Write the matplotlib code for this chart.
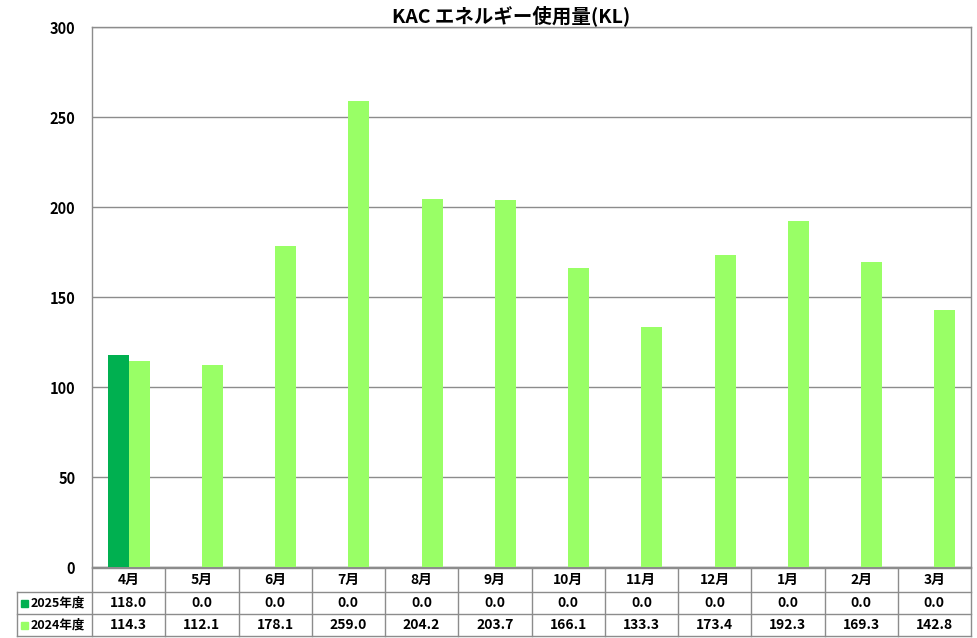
import matplotlib.pyplot as plt
from matplotlib.patches import Rectangle
import numpy as np

plt.rcParams['font.family'] = ['Noto Sans CJK JP', 'DejaVu Sans']

months = ["4月", "5月", "6月", "7月", "8月", "9月", "10月", "11月", "12月", "1月", "2月", "3月"]
fy2025 = [118.0, 0.0, 0.0, 0.0, 0.0, 0.0, 0.0, 0.0, 0.0, 0.0, 0.0, 0.0]
fy2024 = [114.3, 112.1, 178.1, 259.0, 204.2, 203.7, 166.1, 133.3, 173.4, 192.3, 169.3, 142.8]
series_names = ["2025年度", "2024年度"]
colors = ["#00B050", "#99FF66"]
grid_c = "#8c8c8c"

W, H = 977, 638
fig = plt.figure(figsize=(W / 100, H / 100), dpi=100)
ax = fig.add_axes([92 / W, (H - 567) / H, 879 / W, 540 / H])

x = np.arange(len(months))
w = 0.287
ax.bar(x - w / 2, fy2025, width=w, color=colors[0], zorder=3)
ax.bar(x + w / 2, fy2024, width=w, color=colors[1], zorder=3)

ax.set_xlim(-0.5, len(months) - 0.5)
ax.set_ylim(0, 300)
ax.set_yticks(range(0, 301, 50))
ax.yaxis.grid(True, color=grid_c, linewidth=1)
ax.set_axisbelow(True)
ax.set_xticks([])
ax.tick_params(axis="y", length=0, pad=12, labelsize=10.5)
for lab in ax.get_yticklabels():
    lab.set_fontweight("bold")
for s in ax.spines.values():
    s.set_color(grid_c)
    s.set_linewidth(1)

fig.text(511 / W, 1 - 16 / H, "KAC エネルギー使用量(KL)", ha="center", va="center",
         fontsize=14, fontweight="bold")

# data table below the plot
def fy(py):
    return 1 - py / H

rows_y = [568, 592, 614, 636]
lc = dict(color=grid_c, linewidth=1, transform=fig.transFigure, clip_on=False)
x0f, x1f = 17 / W, 971 / W
axl, axr = 92 / W, 971 / W
fig.add_artist(plt.Line2D([axl, axr], [fy(rows_y[0])] * 2, **lc))
for py in rows_y[1:]:
    fig.add_artist(plt.Line2D([x0f, x1f], [fy(py)] * 2, **lc))
fig.add_artist(plt.Line2D([x0f, x0f], [fy(rows_y[1]), fy(rows_y[3])], **lc))
colw = 879 / len(months)
for i in range(len(months) + 1):
    xf = (92 + i * colw) / W
    fig.add_artist(plt.Line2D([xf, xf], [fy(rows_y[0]), fy(rows_y[3])], **lc))

fs = 10
for i, m in enumerate(months):
    cx = (92 + (i + 0.5) * colw) / W
    fig.text(cx, fy((rows_y[0] + rows_y[1]) / 2), m, ha="center", va="center",
             fontsize=fs, fontweight="bold")
    fig.text(cx, fy((rows_y[1] + rows_y[2]) / 2), f"{fy2025[i]:.1f}", ha="center",
             va="center", fontsize=fs, fontweight="bold")
    fig.text(cx, fy((rows_y[2] + rows_y[3]) / 2), f"{fy2024[i]:.1f}", ha="center",
             va="center", fontsize=fs, fontweight="bold")

for r, (name, c) in enumerate(zip(series_names, colors)):
    cy = (rows_y[r + 1] + rows_y[r + 2]) / 2
    fig.add_artist(Rectangle((21 / W, fy(cy + 3.5)), 7 / W, 7 / H, color=c,
                             transform=fig.transFigure))
    fig.text(31 / W, fy(cy), name, ha="left", va="center", fontsize=9, fontweight="bold")

fig.savefig("out.png", dpi=100, facecolor="white")
